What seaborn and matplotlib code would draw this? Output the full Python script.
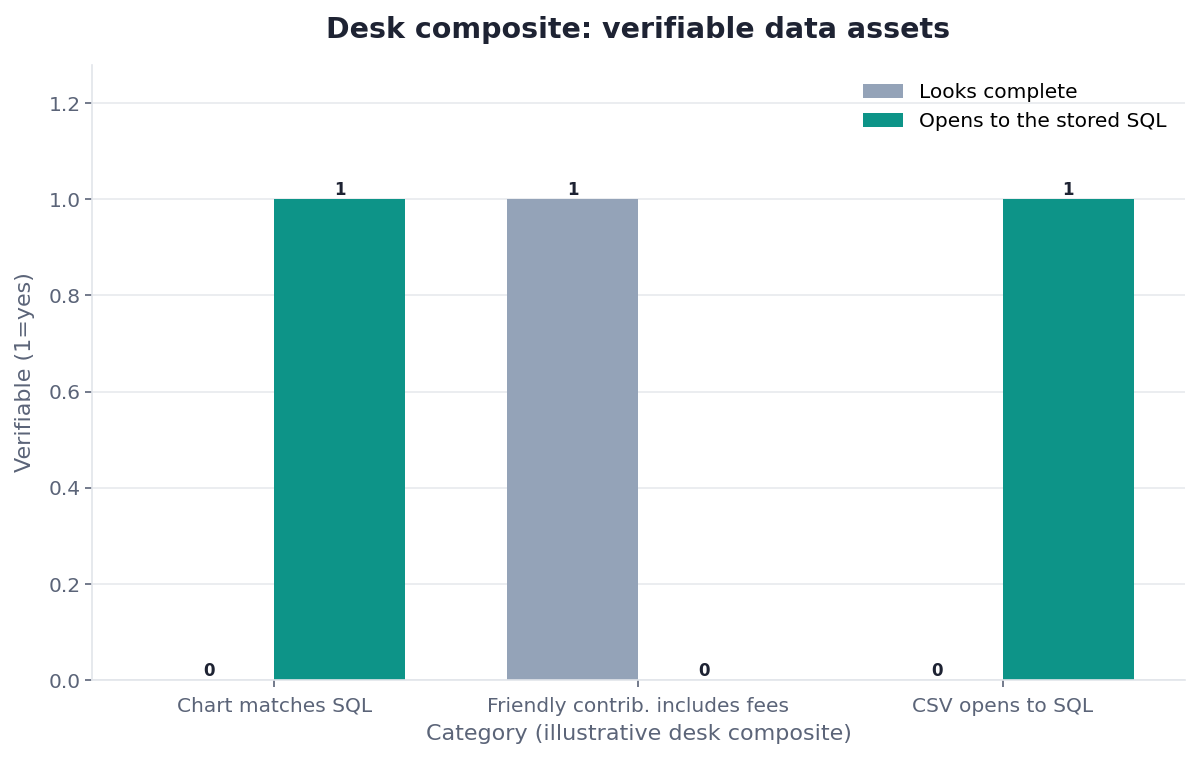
import matplotlib
matplotlib.use("Agg")
import matplotlib.pyplot as plt
import seaborn as sns
import pandas as pd

# data
categories = ["Chart matches SQL", "Friendly contrib. includes fees", "CSV opens to SQL"]
series = ["Looks complete", "Opens to the stored SQL"]
looks_complete = [0, 1, 0]
opens_to_sql = [1, 0, 1]

colors = ["#94A3B8", "#0D9488"]
text_gray = "#5B6478"
dark = "#1E2333"

df = pd.DataFrame({
    "category": categories * 2,
    "series": [series[0]] * 3 + [series[1]] * 3,
    "value": looks_complete + opens_to_sql,
})

sns.set_style("white")
plt.rcParams["font.family"] = ["DejaVu Sans"]

fig, ax = plt.subplots(figsize=(11.99, 7.6), dpi=100)
fig.subplots_adjust(left=0.077, right=0.988, top=0.915, bottom=0.105)

sns.barplot(data=df, x="category", y="value", hue="series", palette=colors,
            width=0.72, gap=0, ax=ax, saturation=1, errorbar=None, linewidth=0)

for cont in ax.containers:
    ax.bar_label(cont, fmt="%d", padding=0, fontsize=12, fontweight="bold", color=dark)

ax.set_xlim(-0.5, 2.5)
ax.set_ylim(0, 1.28)
ax.set_yticks([0, 0.2, 0.4, 0.6, 0.8, 1.0, 1.2])
ax.yaxis.grid(True, color="#E8EAEE", linewidth=1.2)
ax.set_axisbelow(True)

for side in ["top", "right"]:
    ax.spines[side].set_visible(False)
for side in ["left", "bottom"]:
    ax.spines[side].set_color("#E2E5EA")
    ax.spines[side].set_linewidth(1.2)

ax.tick_params(axis="both", bottom=True, left=True, colors=text_gray, labelsize=14.5,
               length=5, width=1.2, labelcolor=text_gray)
ax.tick_params(axis="x", pad=7)
ax.set_xlabel("Category (illustrative desk composite)", fontsize=16, color=text_gray, labelpad=6)
ax.set_ylabel("Verifiable (1=yes)", fontsize=16, color=text_gray, labelpad=10)
ax.set_title("Desk composite: verifiable data assets", fontsize=20.5, fontweight="bold",
             color=dark, pad=19)

ax.legend(title=None, frameon=False, loc="upper right", fontsize=14.5, labelcolor="black")

fig.savefig("out.png", dpi=100)
